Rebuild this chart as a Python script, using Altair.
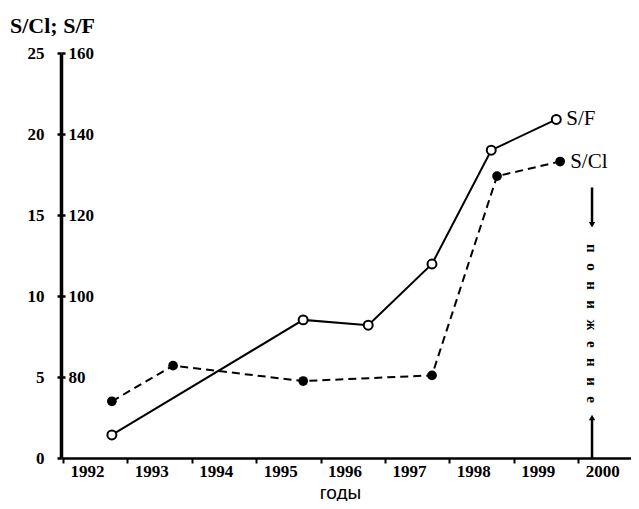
import altair as alt
import pandas as pd

# ---- data ----
cl_t = [1992.76, 1993.71, 1995.73, 1997.73, 1998.74, 1999.72]
cl_v = [3.5, 5.7, 4.75, 5.1, 17.4, 18.3]
sf_t = [1992.76, 1995.73, 1996.74, 1997.73, 1998.65, 1999.66]
sf_v = [65.7, 94.1, 92.8, 107.9, 136.0, 143.6]
year_ticks = [1992, 1993, 1994, 1995, 1996, 1997, 1998, 1999, 2000]
cl_ticks = [0, 5, 10, 15, 20, 25]
sf_ticks = [80, 100, 120, 140, 160]
note_t = [2000.215]
note_word = "понижение"
arrow_top = [16.7, 14.4]
arrow_bottom = [2.5, 0.0]
note_mid = [8.3]

W, H = 570, 405
SERIF = "Liberation Serif"

cl_df = pd.DataFrame({"t": cl_t, "v": cl_v})
sf_df = pd.DataFrame({"t": sf_t, "v": sf_v})
cl_lab = pd.DataFrame({"t": [cl_t[-1]], "v": [cl_v[-1]], "label": ["S/Cl"]})
sf_lab = pd.DataFrame({"t": [sf_t[-1]], "v": [sf_v[-1]], "label": ["S/F"]})
rules_df = pd.DataFrame({"t": note_t * 2,
                         "y1": [arrow_top[0], arrow_bottom[0]],
                         "y2": [arrow_top[1], arrow_bottom[1]]})
heads_df = pd.DataFrame({"t": note_t * 2,
                         "y": [arrow_top[1], arrow_bottom[0]],
                         "shape": ["triangle-down", "triangle-up"]})
note_df = pd.DataFrame({"t": note_t, "y": note_mid,
                        "label": ["\u2002\u2009".join(note_word)]})

xscale = alt.Scale(domain=[1991.97, 2000.82], nice=False, zero=False)
xaxis = alt.Axis(values=year_ticks, format="d", tickSize=5, tickWidth=2,
                 tickColor="black", domainColor="black", domainWidth=2.5,
                 labelOffset=24, labelPadding=0, labelFlush=False,
                 labelOverlap=False, labelFont=SERIF, labelFontWeight="bold",
                 labelFontSize=17, labelColor="black", grid=False,
                 title="годы", titleFont="Liberation Sans", titleFontSize=19,
                 titleFontWeight="normal", titleColor="black",
                 titleBaseline="alphabetic", titleY=40, titleX=279)
X = alt.X("t:Q", scale=xscale, axis=xaxis)

ylscale = alt.Scale(domain=[0, 25], nice=False)
ylaxis = alt.Axis(values=cl_ticks, orient="left", domainWidth=3.5,
                  domainColor="black", tickSize=4, tickWidth=2.5,
                  tickColor="black", labelFont=SERIF, labelFontWeight="bold",
                  labelFontSize=17, labelColor="black", labelPadding=13,
                  grid=False, title=None)
yrscale = alt.Scale(domain=[60, 160], nice=False)
yraxis = alt.Axis(values=sf_ticks, orient="right", offset=-W, domain=False,
                  tickSize=4, tickWidth=2.5, tickColor="black",
                  labelFont=SERIF, labelFontWeight="bold", labelFontSize=17,
                  labelColor="black", labelPadding=3, grid=False, title=None)

YL = alt.Y("v:Q", scale=ylscale, axis=ylaxis)
YR = alt.Y("v:Q", scale=yrscale, axis=yraxis)

cl_base = alt.Chart(cl_df)
cl_line = cl_base.mark_line(color="black", strokeWidth=2,
                            strokeDash=[8, 5]).encode(x=X, y=YL)
cl_pts = cl_base.mark_point(filled=True, color="black", size=95,
                            opacity=1).encode(x=X, y=YL)
cl_text = alt.Chart(cl_lab).mark_text(align="left", baseline="middle", dx=10,
                                      font=SERIF, fontSize=21,
                                      color="black").encode(x=X, y=YL, text="label:N")
rules = alt.Chart(rules_df).mark_rule(color="black", strokeWidth=2.5).encode(
    x=X, y=alt.Y("y1:Q", scale=ylscale, axis=ylaxis), y2="y2:Q")
heads = alt.Chart(heads_df).mark_point(filled=True, color="black", size=40,
                                       opacity=1).encode(
    x=X, y=alt.Y("y:Q", scale=ylscale, axis=ylaxis),
    shape=alt.Shape("shape:N", scale=None))
note = alt.Chart(note_df).mark_text(angle=90, align="center", baseline="middle",
                                    font=SERIF, fontWeight="bold", fontSize=15,
                                    color="black").encode(
    x=X, y=alt.Y("y:Q", scale=ylscale, axis=ylaxis), text="label:N")

cl_layer = alt.layer(cl_line, cl_pts, cl_text, rules, heads, note)

sf_base = alt.Chart(sf_df)
sf_line = sf_base.mark_line(color="black", strokeWidth=2).encode(x=X, y=YR)
sf_pts = sf_base.mark_point(filled=True, fill="white", stroke="black",
                            strokeWidth=2, size=80, opacity=1).encode(x=X, y=YR)
sf_text = alt.Chart(sf_lab).mark_text(align="left", baseline="middle", dx=10,
                                      font=SERIF, fontSize=21,
                                      color="black").encode(x=X, y=YR, text="label:N")
sf_layer = alt.layer(sf_line, sf_pts, sf_text)

chart = alt.layer(cl_layer, sf_layer).resolve_scale(y="independent").properties(
    width=W, height=H,
    autosize="none",
    padding={"left": 53, "top": 45, "right": 0, "bottom": 43},
    background="white",
    title=alt.TitleParams(text="S/Cl; S/F", anchor="start", frame="group",
                          dx=-51, offset=6, font=SERIF, fontSize=22,
                          fontWeight="bold", color="black"),
).configure_view(stroke=None)

chart.save("out.html", embed_options={"renderer": "svg", "actions": False})
